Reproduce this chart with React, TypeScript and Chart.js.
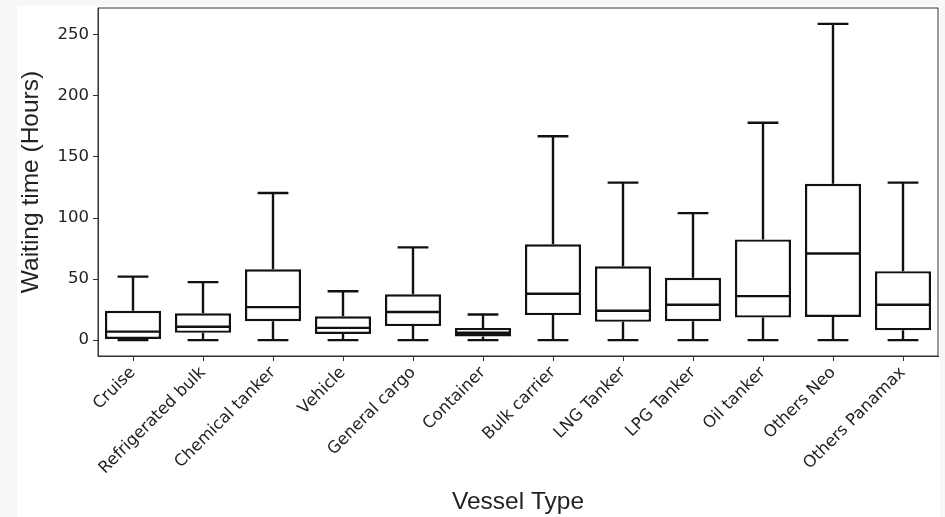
import React, { useEffect, useRef } from "react";
import { Chart, registerables } from "chart.js";

Chart.register(...registerables);

const categories = [
  "Cruise",
  "Refrigerated bulk",
  "Chemical tanker",
  "Vehicle",
  "General cargo",
  "Container",
  "Bulk carrier",
  "LNG Tanker",
  "LPG Tanker",
  "Oil tanker",
  "Others Neo",
  "Others Panamax",
];

const whiskerLow = [0, 0, 0, 0, 0, 0, 0, 0, 0, 0, 0, 0];
const q1 = [1, 6, 15.5, 5, 11.5, 3, 20.5, 15, 15.5, 18.5, 19, 8];
const median = [7, 11, 27, 10, 23, 6, 38, 24, 29, 36, 71, 29];
const q3 = [24, 22, 58, 19.5, 37.5, 10, 78.5, 60.5, 51, 82.5, 128, 56.5];
const whiskerHigh = [52, 47.5, 120.5, 40, 76, 21, 167, 129, 104, 178, 259, 129];

const yTicks = [0, 50, 100, 150, 200, 250];

const boxData = categories.map((_, i) => [q1[i], q3[i]]);

const figureBackground = {
  id: "figureBackground",
  beforeDraw(chart: any) {
    const { ctx, width, height } = chart;
    ctx.save();
    ctx.fillStyle = "#f7f7f7";
    ctx.fillRect(0, 0, width, height);
    ctx.fillStyle = "#ffffff";
    ctx.fillRect(17, 6, 923, height - 6);
    ctx.restore();
  },
};

const boxPlotParts = {
  id: "boxPlotParts",
  afterDatasetsDraw(chart: any) {
    const { ctx, chartArea } = chart;
    const x = chart.scales.x;
    const y = chart.scales.y;
    const meta = chart.getDatasetMeta(0);
    ctx.save();
    ctx.strokeStyle = "#111111";
    ctx.lineWidth = 2.4;
    categories.forEach((_, i) => {
      const cx = x.getPixelForValue(i);
      const bar = meta.data[i];
      const boxHalf = bar ? bar.width / 2 : 28;
      const capHalf = boxHalf * 0.55;
      const yLo = y.getPixelForValue(whiskerLow[i]);
      const yQ1 = y.getPixelForValue(q1[i]);
      const yQ3 = y.getPixelForValue(q3[i]);
      const yHi = y.getPixelForValue(whiskerHigh[i]);
      const yMed = y.getPixelForValue(median[i]);
      ctx.beginPath();
      ctx.moveTo(cx, yQ3);
      ctx.lineTo(cx, yHi);
      ctx.moveTo(cx, yQ1);
      ctx.lineTo(cx, yLo);
      ctx.moveTo(cx - capHalf, yHi);
      ctx.lineTo(cx + capHalf, yHi);
      ctx.moveTo(cx - capHalf, yLo);
      ctx.lineTo(cx + capHalf, yLo);
      ctx.moveTo(cx - boxHalf, yMed);
      ctx.lineTo(cx + boxHalf, yMed);
      ctx.stroke();
    });
    ctx.restore();
    ctx.save();
    ctx.strokeStyle = "#333333";
    ctx.lineWidth = 1;
    ctx.strokeRect(
      chartArea.left,
      chartArea.top,
      chartArea.right - chartArea.left,
      chartArea.bottom - chartArea.top
    );
    ctx.restore();
  },
};

export default function App() {
  const canvasRef = useRef<HTMLCanvasElement | null>(null);

  useEffect(() => {
    document.body.style.margin = "0";
    const canvas = canvasRef.current;
    if (!canvas) return;
    const chart = new Chart(canvas, {
      type: "bar",
      data: {
        labels: categories,
        datasets: [
          {
            data: boxData as any,
            backgroundColor: "#ffffff",
            borderColor: "#111111",
            borderWidth: 2.4,
            borderSkipped: false,
            barPercentage: 0.8,
            categoryPercentage: 1,
          },
        ],
      },
      options: {
        animation: false,
        responsive: false,
        layout: { padding: { left: 0, right: 7, top: 8, bottom: 0 } },
        plugins: {
          legend: { display: false },
          tooltip: { enabled: false },
        },
        scales: {
          x: {
            offset: true,
            grid: {
              display: true,
              offset: false,
              drawOnChartArea: false,
              drawTicks: true,
              tickLength: 5,
              tickColor: "#333333",
              tickWidth: 1,
            },
            border: { display: true, color: "#333333", width: 1 },
            ticks: {
              autoSkip: false,
              maxRotation: 45,
              minRotation: 45,
              color: "#222222",
              padding: 2,
              font: { family: "DejaVu Sans", size: 16.5 },
            },
            title: {
              display: true,
              text: "Vessel Type",
              color: "#222222",
              font: { family: "Liberation Sans", size: 24.5 },
              padding: { top: 0, bottom: 0 },
            },
            afterFit(scale: any) {
              scale.height = 161;
              scale.paddingLeft = 0;
              scale.paddingRight = 0;
            },
          },
          y: {
            min: -13,
            max: 272,
            grid: {
              display: true,
              drawOnChartArea: false,
              drawTicks: true,
              tickLength: 5,
              tickColor: "#333333",
              tickWidth: 1,
            },
            border: { display: true, color: "#333333", width: 1 },
            afterBuildTicks(scale: any) {
              scale.ticks = yTicks.map((v) => ({ value: v }));
            },
            ticks: {
              color: "#222222",
              padding: 4,
              font: { family: "DejaVu Sans", size: 16.5 },
            },
            title: {
              display: true,
              text: "Waiting time (Hours)",
              color: "#222222",
              font: { family: "Liberation Sans", size: 24.5 },
              padding: { top: 17, bottom: 0 },
            },
            afterFit(scale: any) {
              scale.width = 98;
              scale.paddingTop = 0;
              scale.paddingBottom = 0;
            },
          },
        },
      },
      plugins: [figureBackground, boxPlotParts],
    });
    return () => chart.destroy();
  }, []);

  return (
    <div style={{ width: 945, height: 517 }}>
      <canvas ref={canvasRef} width={945} height={517} style={{ display: "block" }} />
    </div>
  );
}
